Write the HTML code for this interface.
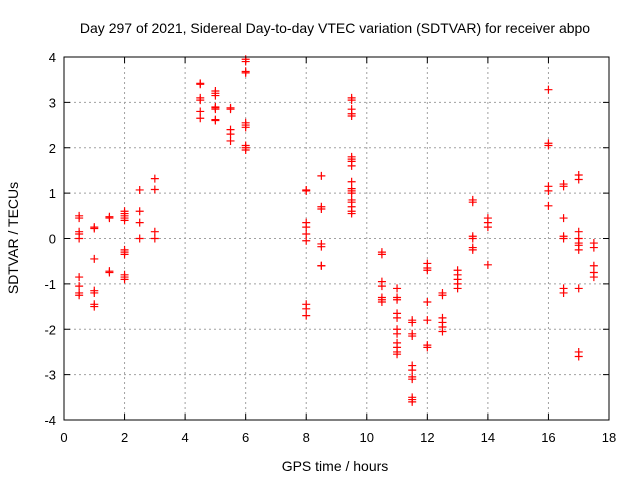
<!DOCTYPE html>
<html><head><meta charset="utf-8"><style>
body{margin:0;background:#fff;}
svg{display:block;font-family:"Liberation Sans",sans-serif;}
</style></head><body>
<svg id="chart" width="640" height="480">
<text x="335" y="33" text-anchor="middle" font-size="14">Day 297 of 2021, Sidereal Day-to-day VTEC variation (SDTVAR) for receiver abpo</text>
<text x="335" y="471" text-anchor="middle" font-size="14">GPS time / hours</text>
<text transform="translate(18,238) rotate(-90)" text-anchor="middle" font-size="14">SDTVAR / TECUs</text>
<g id="grid"></g>
<g id="ticks"></g>
<g id="points"></g>
<rect x="64" y="57" width="545" height="363" fill="none" stroke="#000" stroke-width="1"/>
</svg>
<script>
const xTicks=[0,2,4,6,8,10,12,14,16,18];
const yTicks=[-4,-3,-2,-1,0,1,2,3,4];
const groupTimes=[0.5,1,1.5,2,2.5,3,4.5,5,5.5,6,8,8.5,9.5,10.5,11,11.5,12,12.5,13,13.5,14,16,16.5,17,17.5];
const groupValues=[
[0.5,0.45,0.15,0.1,0,-0.85,-1.05,-1.2,-1.25],
[0.25,0.22,-0.45,-1.15,-1.2,-1.45,-1.5],
[0.48,0.45,-0.72,-0.75],
[0.6,0.55,0.5,0.45,0.4,-0.25,-0.3,-0.35,-0.8,-0.85,-0.9],
[1.07,0.6,0.35,0],
[1.32,1.08,0.15,0],
[3.42,3.4,3.1,3.05,2.8,2.65],
[3.25,3.2,3.15,2.9,2.88,2.85,2.62,2.6],
[2.88,2.85,2.4,2.3,2.15],
[3.95,3.9,3.68,3.65,2.55,2.5,2.45,2.05,2.0,1.95],
[1.07,1.05,0.35,0.25,0.1,-0.05,-1.45,-1.55,-1.7],
[1.38,0.7,0.65,-0.12,-0.18,-0.6,-0.6],
[3.1,3.05,2.85,2.75,2.7,1.8,1.75,1.7,1.6,1.25,1.1,1.05,1.0,0.85,0.8,0.7,0.6,0.55],
[-0.3,-0.35,-0.95,-1.05,-1.3,-1.35,-1.4],
[-1.1,-1.3,-1.35,-1.65,-1.75,-2.0,-2.1,-2.3,-2.4,-2.5,-2.55],
[-1.8,-1.85,-2.1,-2.15,-2.8,-2.9,-3.05,-3.1,-3.5,-3.55,-3.6],
[-0.55,-0.65,-0.7,-1.4,-1.8,-2.35,-2.4],
[-1.2,-1.25,-1.75,-1.85,-1.95,-2.05],
[-0.7,-0.8,-0.9,-1.0,-1.1],
[0.85,0.8,0.05,0.0,-0.2,-0.25],
[0.45,0.35,0.25,-0.58],
[3.28,2.1,2.05,1.15,1.05,0.72],
[1.2,1.15,0.45,0.05,0.0,-1.1,-1.2],
[1.4,1.3,0.15,0.0,-0.1,-0.15,-0.25,-1.1,-2.5,-2.6],
[-0.1,-0.2,-0.6,-0.75,-0.85]
];
const X0=64,X1=609,Y0=420,Y1=57;
const xs=v=>X0+(v-0)/(18-0)*(X1-X0);
const ys=v=>Y0-(v+4)/8*(Y0-Y1);
const NS="http://www.w3.org/2000/svg";
const grid=document.getElementById('grid'),ticks=document.getElementById('ticks'),pts=document.getElementById('points');
function mk(tag,attrs,parent){const e=document.createElementNS(NS,tag);for(const k in attrs)e.setAttribute(k,attrs[k]);parent.appendChild(e);return e;}
xTicks.forEach(t=>{const x=xs(t);
 if(t>0&&t<18){const g=mk('line',{x1:x,x2:x,y1:Y1,y2:Y0,stroke:'#a0a0a0','stroke-dasharray':'2,3'},grid);
 
 }
 mk('line',{x1:x,x2:x,y1:Y0,y2:Y0-6,stroke:'#000'},ticks);mk('line',{x1:x,x2:x,y1:Y1,y2:Y1+6,stroke:'#000'},ticks);
 const l=mk('text',{x:x,y:Y0+22,'text-anchor':'middle','font-size':'13'},ticks);l.textContent=t;
 
 });
yTicks.forEach(t=>{const y=ys(t);
 if(t>-4&&t<4){const g=mk('line',{x1:X0,x2:X1,y1:y,y2:y,stroke:'#a0a0a0','stroke-dasharray':'2,3'},grid);
 
 }
 mk('line',{x1:X0,x2:X0+6,y1:y,y2:y,stroke:'#000'},ticks);mk('line',{x1:X1,x2:X1-6,y1:y,y2:y,stroke:'#000'},ticks);
 const l=mk('text',{x:X0-8,y:y+5,'text-anchor':'end','font-size':'13'},ticks);l.textContent=t;
 
 });
groupTimes.forEach((t,i)=>{groupValues[i].forEach(v=>{const x=xs(t),y=ys(v);
 const p=mk('path',{d:`M${x-4},${y}H${x+4}M${x},${y-4}V${y+4}`,stroke:'#f00','stroke-width':'1.2',fill:'none'},pts);
 
 });});
</script>
</body></html>
